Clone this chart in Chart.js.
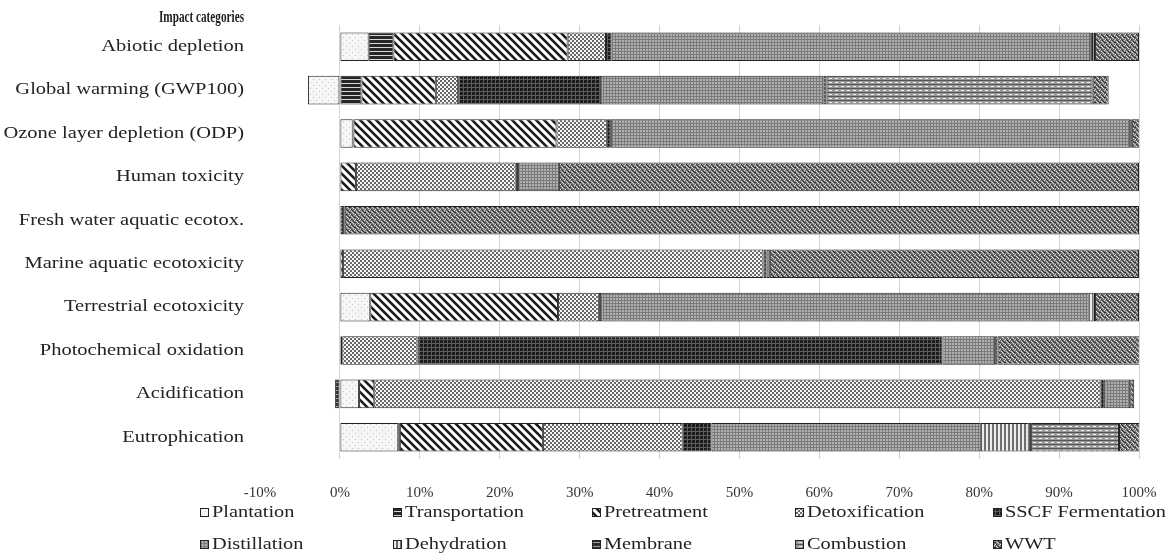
<!DOCTYPE html>
<html>
<head>
<meta charset="utf-8">
<script src="https://cdn.jsdelivr.net/npm/chart.js@4/dist/chart.umd.min.js"></script>
<style>
  body { margin: 0; background: #fff; }
  #wrap { width: 1167px; height: 558px; position: relative; }
</style>
</head>
<body>
<div id="wrap"><canvas id="impactChart"></canvas></div>
<script>
// Impact categories (y axis)
const categories = ['Abiotic depletion', 'Global warming (GWP100)', 'Ozone layer depletion (ODP)',
    'Human toxicity', 'Fresh water aquatic ecotox.', 'Marine aquatic ecotoxicity',
    'Terrestrial ecotoxicity', 'Photochemical oxidation', 'Acidification', 'Eutrophication'];

// Share of each process stage (%)
const plantation     = [3.6, -4.0, 1.6, 0, 0, 0, 3.8, 0, 2.4, 7.3];
const transportation = [3.1, 2.7, 0.1, 0, 0.4, 0, 0, 0.3, 0, 0.2];
const pretreatment   = [21.8, 9.3, 25.4, 2.0, 0, 0.4, 23.5, 0, 1.9, 17.9];
const detoxification = [4.8, 2.8, 6.3, 20.0, 0.2, 52.6, 5.1, 9.4, 90.9, 17.5];
const sscf           = [0.7, 17.9, 0.5, 0.3, 0, 0.4, 0.3, 65.7, 0.6, 3.6];
const distillation   = [59.9, 27.8, 65.0, 5.1, 0, 0.4, 61.0, 6.6, 3.1, 33.7];
const dehydration    = [0.2, 0, 0.2, 0, 0, 0, 0.6, 0, 0, 6.0];
const membrane       = [0.2, 0.4, 0, 0, 0, 0, 0.2, 0.3, -0.6, 0.3];
const combustion     = [0.2, 33.3, 0, 0, 0, 0, 0, 0, 0, 11.0];
const wwt            = [5.5, 2.0, 1.0, 72.6, 99.4, 46.2, 5.5, 17.8, 0.5, 2.6];

// x axis ticks
const xTicks = [-10, 0, 10, 20, 30, 40, 50, 60, 70, 80, 90, 100];

const FONT = "'Liberation Serif', 'DejaVu Serif', serif";

// small bitmap fills to mimic the printed hatching
function makePattern(w, h, bg, draw) {
    const c = document.createElement('canvas');
    c.width = w; c.height = h;
    const g = c.getContext('2d');
    g.fillStyle = bg;
    g.fillRect(0, 0, w, h);
    draw(g);
    return g.createPattern(c, 'repeat');
}
function px(g, color, pts) {
    g.fillStyle = color;
    pts.forEach(p => g.fillRect(p[0], p[1], p[2] || 1, p[3] || 1));
}

const fills = {
    plantation: makePattern(6, 6, '#f6f6f6', g => px(g, '#c4c4c4', [[1, 1], [4, 4]])),
    transportation: makePattern(4, 4, '#262626', g => px(g, '#d8d8d8', [[0, 3, 4, 1]])),
    pretreatment: makePattern(8, 8, '#ffffff', g => {
        g.strokeStyle = '#1a1a1a'; g.lineWidth = 2.6;
        g.beginPath();
        g.moveTo(-2, -2); g.lineTo(10, 10);
        g.moveTo(-2, 6); g.lineTo(2, 10);
        g.moveTo(6, -2); g.lineTo(10, 2);
        g.stroke();
    }),
    detoxification: makePattern(4, 4, '#f6f6f6', g => px(g, '#6a6a6a', [[0, 0, 2, 2], [2, 2, 2, 2]])),
    sscf: makePattern(4, 4, '#1c1c1c', g => px(g, '#5e5e5e', [[0, 3, 4, 1], [3, 0, 1, 4]])),
    distillation: makePattern(3, 3, '#b0b0b0', g => px(g, '#7a7a7a', [[0, 0, 3, 1], [0, 0, 1, 3]])),
    dehydration: makePattern(4, 4, '#ececec', g => px(g, '#6e6e6e', [[0, 0, 2, 4]])),
    membrane: makePattern(4, 4, '#2c2c2c', g => px(g, '#9a9a9a', [[0, 2, 4, 1]])),
    combustion: makePattern(6, 4, '#9a9a9a', g => {
        px(g, '#555555', [[0, 0, 6, 1]]);
        px(g, '#f0f0f0', [[1, 2, 3, 1]]);
    }),
    wwt: makePattern(5, 5, '#777777', g => {
        px(g, '#dcdcdc', [[1, 1], [3, 3], [0, 4], [4, 0], [2, 2]]);
        px(g, '#333333', [[2, 0], [4, 2], [0, 2], [1, 4], [3, 1]]);
    })
};

const series = [
    ['Plantation', plantation, fills.plantation],
    ['Transportation', transportation, fills.transportation],
    ['Pretreatment', pretreatment, fills.pretreatment],
    ['Detoxification', detoxification, fills.detoxification],
    ['SSCF Fermentation', sscf, fills.sscf],
    ['Distillation', distillation, fills.distillation],
    ['Dehydration', dehydration, fills.dehydration],
    ['Membrane', membrane, fills.membrane],
    ['Combustion', combustion, fills.combustion],
    ['WWT', wwt, fills.wwt]
];

const datasets = series.map(s => ({
    label: s[0],
    data: s[1].map(v => v === 0 ? null : v),
    backgroundColor: s[2],
    borderColor: '#222',
    borderWidth: 1,
    borderSkipped: false,
    categoryPercentage: 1,
    barPercentage: 0.66
}));

// text stretched sideways, the scanned original uses a wide face
function wideText(ctx, text, x, y, align, sx) {
    ctx.save();
    ctx.translate(x, y);
    ctx.scale(sx, 1);
    ctx.textAlign = align;
    ctx.fillText(text, 0, 0);
    ctx.restore();
}

// category labels, axis title above them, legend in a fixed 5x2 grid
const extras = {
    id: 'extras',
    afterDraw(chart) {
        const ctx = chart.ctx;
        const yScale = chart.scales.y;
        ctx.save();
        ctx.fillStyle = '#222';
        ctx.textBaseline = 'middle';

        ctx.font = 'bold 17px ' + FONT;
        wideText(ctx, 'Impact categories', 244, 18, 'right', 0.66);

        ctx.font = '16px ' + FONT;
        categories.forEach((c, i) => {
            wideText(ctx, c, 244, yScale.getPixelForValue(i), 'right', 1.28);
        });

        const colX = [200, 393, 592, 795, 993];
        const rowY = [513, 545];
        series.forEach((s, i) => {
            const x = colX[i % 5], y = rowY[Math.floor(i / 5)];
            ctx.fillStyle = s[2];
            ctx.fillRect(x, y - 5, 9, 9);
            ctx.strokeStyle = '#222';
            ctx.lineWidth = 1;
            ctx.strokeRect(x + 0.5, y - 4.5, 8, 8);
            ctx.fillStyle = '#222';
            wideText(ctx, s[0], x + 12, y, 'left', 1.27);
        });
        ctx.restore();
    }
};

window.onload = function() {
    const ctx = document.getElementById('impactChart').getContext('2d');
    new Chart(ctx, {
        type: 'bar',
        data: { labels: categories, datasets: datasets },
        plugins: [extras],
        options: {
            indexAxis: 'y',
            responsive: true,
            maintainAspectRatio: false,
            animation: false,
            layout: { padding: { top: 25, right: 28, left: 0, bottom: 0 } },
            scales: {
                x: {
                    stacked: true,
                    min: -10,
                    max: 100,
                    afterBuildTicks: scale => { scale.ticks = xTicks.map(v => ({ value: v })); },
                    afterFit: scale => {
                        scale.height = 99;
                        scale.paddingLeft = 0;
                        scale.paddingRight = 0;
                    },
                    border: { display: false },
                    grid: {
                        drawTicks: false,
                        color: c => c.tick && c.tick.value === -10 ? 'rgba(0,0,0,0)' : '#d4d4d4'
                    },
                    ticks: {
                        padding: 25,
                        color: '#333',
                        font: { family: FONT, size: 15 },
                        callback: v => v + '%'
                    }
                },
                y: {
                    stacked: true,
                    afterFit: scale => { scale.width = 260; },
                    border: { display: false },
                    grid: { display: false, drawTicks: false },
                    ticks: { display: false }
                }
            },
            plugins: {
                legend: { display: false },
                tooltip: { enabled: false }
            }
        }
    });
};
</script>
</body>
</html>
